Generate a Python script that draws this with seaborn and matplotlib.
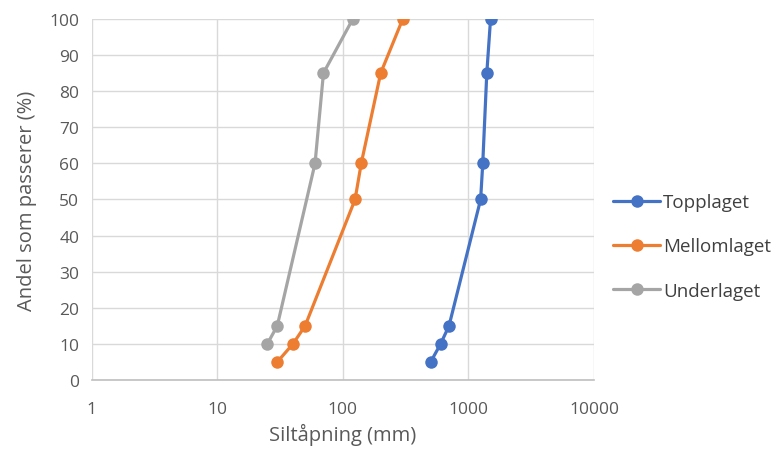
import matplotlib
matplotlib.use('Agg')

import matplotlib.pyplot as plt
import matplotlib.ticker as mticker
import pandas as pd
import seaborn as sns

# data
passing = [5, 10, 15, 50, 60, 85, 100]
topp_x = [500, 600, 700, 1250, 1300, 1400, 1500]
mellom_x = [30, 40, 50, 125, 140, 200, 300]
under_pass = [10, 15, 60, 85, 100]
under_x = [25, 30, 60, 70, 120]
layers = ['Topplaget', 'Mellomlaget', 'Underlaget']
colors = ['#4472C4', '#ED7D31', '#A5A5A5']

df = pd.concat([
    pd.DataFrame({'size': topp_x, 'pass': passing, 'layer': layers[0]}),
    pd.DataFrame({'size': mellom_x, 'pass': passing, 'layer': layers[1]}),
    pd.DataFrame({'size': under_x, 'pass': under_pass, 'layer': layers[2]}),
])

sns.set_style('white')
plt.rcParams['font.family'] = ['Open Sans', 'DejaVu Sans']

fig = plt.figure(figsize=(7.78, 4.52), dpi=100)
ax = fig.add_axes([0.118, 0.157, 0.6455, 0.799])

sns.lineplot(data=df, x='size', y='pass', hue='layer', hue_order=layers,
             palette=colors, marker='o', markersize=9, markeredgewidth=0,
             linewidth=2.3, estimator=None, sort=False, ax=ax)

ax.set_xscale('log')
ax.set_xlim(1, 10000)
ax.set_ylim(0, 100)
ax.set_xticks([1, 10, 100, 1000, 10000])
ax.xaxis.set_major_formatter(mticker.FuncFormatter(lambda v, p: '{:d}'.format(int(round(v)))))
ax.xaxis.set_minor_locator(mticker.NullLocator())
ax.set_yticks(range(0, 101, 10))

ax.grid(True, color='#d9d9d9', linewidth=1)
ax.set_axisbelow(True)
for s in ['top', 'right', 'left']:
    ax.spines[s].set_visible(False)
ax.spines['bottom'].set_color('#bfbfbf')
ax.spines['bottom'].set_linewidth(1.2)

ax.tick_params(axis='both', length=0, labelsize=12.5, labelcolor='#595959')
ax.tick_params(axis='x', pad=15)
ax.tick_params(axis='y', pad=9)

ax.set_xlabel('Siltåpning (mm)', fontsize=14.5, color='#595959', labelpad=4)
ax.set_ylabel('Andel som passerer (%)', fontsize=14.5, color='#595959', labelpad=9)

ax.legend(loc='center left', bbox_to_anchor=(1.005, 0.37), frameon=False,
          fontsize=13.5, labelcolor='#404040', handlelength=2.5,
          handletextpad=0.15, labelspacing=1.4)

fig.savefig('out.png', dpi=100)
